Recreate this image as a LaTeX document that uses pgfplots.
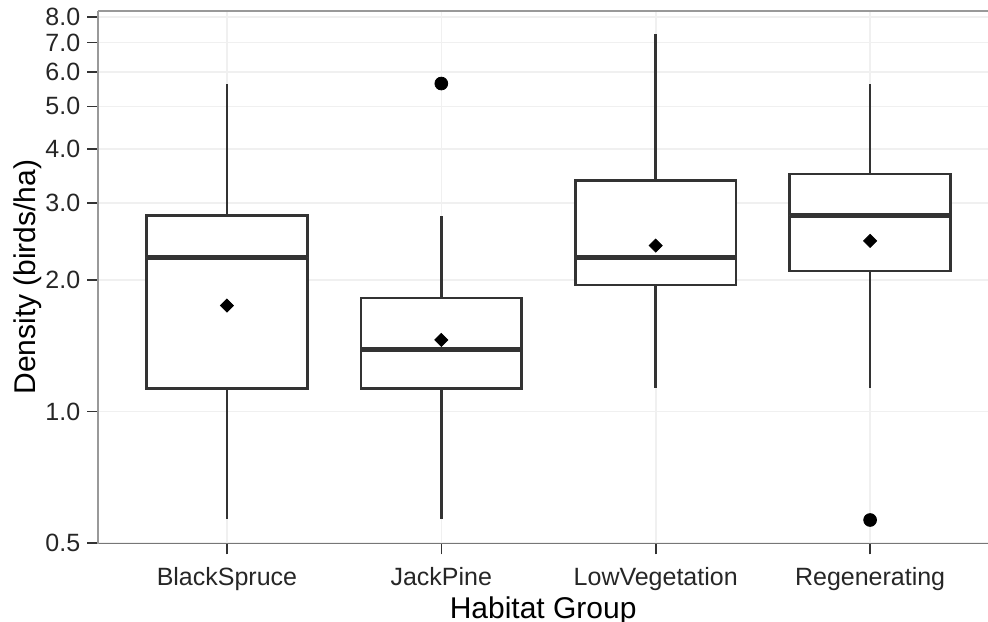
\documentclass[border=0pt]{standalone}
\usepackage{pgfplots}
\pgfplotsset{compat=1.18}
\usepgfplotslibrary{statistics}
\usepackage{fontspec}
\setmainfont{Liberation Sans}
\definecolor{boxc}{HTML}{333333}
\definecolor{gridc}{HTML}{F0F0F0}
\definecolor{framec}{HTML}{999999}
\definecolor{botc}{HTML}{777777}
\begin{document}
\begin{tikzpicture}
\begin{axis}[
  at={(0,0)}, anchor=south west,
  width=445pt, height=266.5pt, scale only axis,
  ymode=log, ymin=0.499, ymax=8.28,
  xmin=0.4, xmax=4.55,
  axis x line*=bottom, axis y line*=left,
  x axis line style={draw=botc, line width=0.9pt},
  y axis line style={draw=framec, line width=0.9pt},
  tick align=outside, major tick length=5.5pt,
  tick style={boxc, line width=0.8pt},
  minor tick num=0,
  xtick={1,2,3,4},
  xticklabels={BlackSpruce,JackPine,LowVegetation,Regenerating},
  ytick={0.5,1,2,3,4,5,6,7,8},
  yticklabels={0.5,1.0,2.0,3.0,4.0,5.0,6.0,7.0,8.0},
  grid=major,
  major grid style={draw=gridc, line width=0.8pt},
  ticklabel style={font=\fontsize{12.5}{15}\selectfont, text=black!85},
  xticklabel style={yshift=-3pt},
  yticklabel style={xshift=0pt},
  xlabel={Habitat Group},
  ylabel={Density (birds/ha)},
  xlabel style={at={(axis description cs:0.5,0)}, anchor=base, yshift=-37.5pt, font=\fontsize{15}{18}\selectfont},
  ylabel style={at={(axis description cs:-0.0708,0.5)}, anchor=base, font=\fontsize{15}{18}\selectfont},
  boxplot/draw direction=y,
  clip=false,
]
\draw[framec, line width=0.9pt] (rel axis cs:0,1) -- (rel axis cs:1,1);
\addplot[boxplot prepared={draw position=1, lower whisker=0.567, lower quartile=1.13, median=2.25, upper quartile=2.81, upper whisker=5.62, box extend=0.75, whisker extend=0},
  draw=boxc, line width=1.3pt, fill=white, boxplot/every median/.style={line width=2.6pt}] coordinates {};
\addplot[boxplot prepared={draw position=2, lower whisker=0.567, lower quartile=1.13, median=1.39, upper quartile=1.82, upper whisker=2.81, box extend=0.75, whisker extend=0},
  draw=boxc, line width=1.3pt, fill=white, boxplot/every median/.style={line width=2.6pt}] coordinates {};
\addplot[boxplot prepared={draw position=3, lower whisker=1.135, lower quartile=1.95, median=2.25, upper quartile=3.38, upper whisker=7.34, box extend=0.75, whisker extend=0},
  draw=boxc, line width=1.3pt, fill=white, boxplot/every median/.style={line width=2.6pt}] coordinates {};
\addplot[boxplot prepared={draw position=4, lower whisker=1.135, lower quartile=2.10, median=2.81, upper quartile=3.50, upper whisker=5.62, box extend=0.75, whisker extend=0},
  draw=boxc, line width=1.3pt, fill=white, boxplot/every median/.style={line width=2.6pt}] coordinates {};
\addplot[only marks, mark=square*, mark size=2.3pt, mark options={rotate=45, fill=black, draw=black}] coordinates {(1,1.75) (2,1.46) (3,2.40) (4,2.46)};
\addplot[only marks, mark=*, mark size=3.2pt, mark options={fill=black, draw=black}] coordinates {(2,5.64) (4,0.565)};
\end{axis}
\pgfresetboundingbox
\path (-49.15pt,-39.15pt) rectangle (445pt,271.85pt);
\end{tikzpicture}
\end{document}
